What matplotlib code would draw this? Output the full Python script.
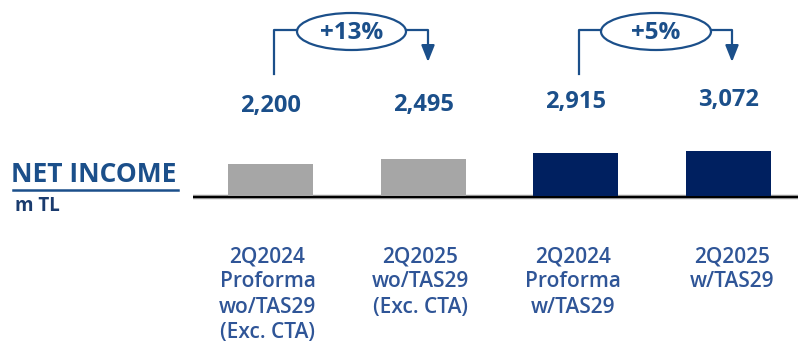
import matplotlib.pyplot as plt
from matplotlib.patches import Ellipse
from matplotlib import transforms

plt.rcParams['font.family'] = ['Open Sans', 'DejaVu Sans']

categories = ["2Q2024\nProforma\nwo/TAS29\n(Exc. CTA)",
              "2Q2025\nwo/TAS29\n(Exc. CTA)",
              "2Q2024\nProforma\nw/TAS29",
              "2Q2025\nw/TAS29"]
values = [2200, 2495, 2915, 3072]
value_labels = ["2,200", "2,495", "2,915", "3,072"]
growth_labels = ["+13%", "+5%"]

GREY = "#A6A6A6"
NAVY = "#002060"
BLUE = "#1B4F8A"
LBLUE = "#2F5597"
bar_colors = [GREY, GREY, NAVY, NAVY]

W, H = 798, 350
fig = plt.figure(figsize=(W / 100, H / 100), dpi=100)

# overlay in pixel coords (y down) for decorations
over = fig.add_axes([0, 0, 1, 1])
over.set_xlim(0, W)
over.set_ylim(H, 0)
over.axis("off")

# bar axes: baseline at y=196px, ~152.7px between bars
base_y = 196
step = 152.67
first = 270.5
px_per_unit = 0.0147
ax = fig.add_axes([0, (H - base_y) / H, 1, base_y / H])
ax.set_xlim(-first / step, (W - first) / step)
ax.set_ylim(0, base_y / px_per_unit)
ax.axis("off")
ax.bar(range(len(values)), values, width=0.557, color=bar_colors, zorder=2)

# baseline
over.plot([193, W], [197, 197], color="#999999", lw=3.2, solid_capstyle="butt", zorder=1)
over.plot([193, W], [197, 197], color="black", lw=1.5, solid_capstyle="butt", zorder=3)

mix = transforms.blended_transform_factory(ax.transData, over.transData)

# value labels
label_y = [106, 105, 102, 100]
for i, lab in enumerate(value_labels):
    over.text(i, label_y[i], lab, transform=mix, ha="center", va="center",
              fontsize=17, fontweight="bold", color=BLUE)

# category labels
cat_dx = [-0.02, -0.02, -0.02, 0.02]
for i, lab in enumerate(categories):
    over.text(i + cat_dx[i], 246, lab, transform=mix, ha="center", va="top",
              fontsize=15, fontweight="semibold", color=LBLUE, linespacing=1.28)

# title
over.text(11, 174, "NET INCOME", ha="left", va="center", fontsize=19,
          fontweight="bold", color=BLUE)
over.plot([13, 178], [189.5, 189.5], color=BLUE, lw=1.8)
over.text(15, 206, "m TL", ha="left", va="center", fontsize=13.5,
          fontweight="bold", color="#1A3B6E")

# growth brackets
brackets = [(274, 297, 351.5, 406, 428), (579, 601, 656, 711, 732)]
for (xl, el, ec, er, xr), g in zip(brackets, growth_labels):
    over.plot([xl, xl, el], [74, 30, 30], color=BLUE, lw=1.6)
    over.plot([er, xr, xr], [30, 30, 50], color=BLUE, lw=1.6)
    over.add_patch(Ellipse((ec, 31.5), er - el, 37, fill=False, edgecolor=BLUE, lw=1.6))
    over.annotate("", xy=(xr, 62), xytext=(xr, 46),
                  arrowprops=dict(arrowstyle="-|>,head_width=0.4,head_length=1.0",
                                  color=BLUE, lw=1.6, shrinkA=0, shrinkB=0))
    over.text(ec, 33, g, ha="center", va="center", fontsize=17.5,
              fontweight="bold", color=BLUE)

fig.savefig("out.png", dpi=100)
